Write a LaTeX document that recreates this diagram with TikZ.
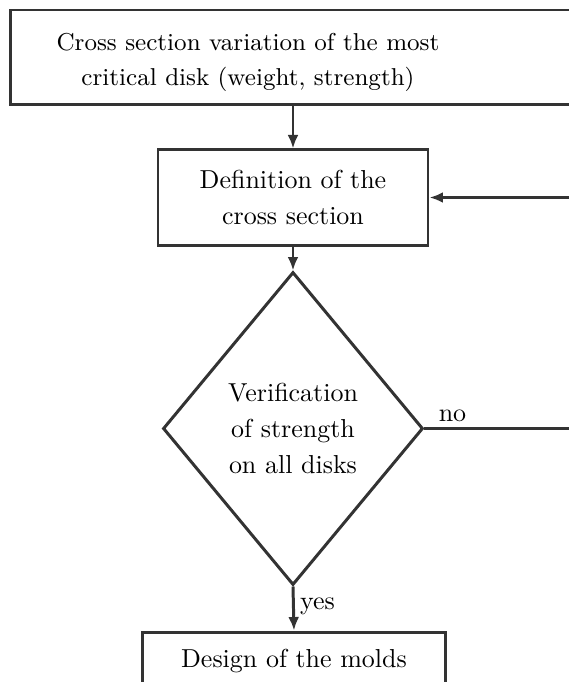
\documentclass[tikz,border=0pt]{standalone}
\usetikzlibrary{shapes.geometric,arrows.meta}
\definecolor{linec}{HTML}{333333}
\begin{document}
\begin{tikzpicture}[x=0.385pt,y=-0.385pt,
  box/.style={draw=linec,line width=1.15pt,rectangle,inner sep=0pt},
  dec/.style={draw=linec,line width=1.15pt,diamond,inner sep=0pt,align=center,font=\fontsize{10}{13.7}\selectfont},
  txt/.style={align=center,inner sep=0pt,font=\fontsize{10}{13.7}\selectfont},
  arr/.style={draw=linec,line width=1.15pt,-{Latex[length=5.2pt,width=4.2pt]}},
  lin/.style={draw=linec,line width=1.15pt}]
\useasboundingbox (0,0) rectangle (569,682);
\clip (0,0) rectangle (569,682);
\node[box,minimum width=226.8pt,minimum height=36.2pt] (top) at (305.5,57) {};
\node[txt,font=\fontsize{9.4}{13.5}\selectfont] (toptext) at (248,62) {Cross section variation of the most\\critical disk (weight, strength)};
\node[box,minimum width=103.95pt,minimum height=36.6pt,txt] (box2) at (293,197.5) {Definition of the\\cross section};
\node[dec,minimum width=100.1pt,minimum height=120.5pt] (dia) at (293,428.5) {Verification\\of strength\\on all disks};
\node[box,minimum width=116.3pt,minimum height=22.3pt,txt] (bot) at (294,661) {Design of the molds};
\coordinate (far) at (640,428.5);
\draw[arr] (box2.north |- top.south) -- (box2.north);
\draw[arr] (box2.south) -- (dia.north);
\draw[arr] (dia.south) -- node[txt,right,pos=0.45,xshift=2pt] (yes) {yes} (bot.north);
\draw[lin] (dia.east) -- node[txt,above,pos=0.13,yshift=2pt] (no) {no} (far);
\draw[arr] (far) |- (box2.east);
\end{tikzpicture}
\end{document}
